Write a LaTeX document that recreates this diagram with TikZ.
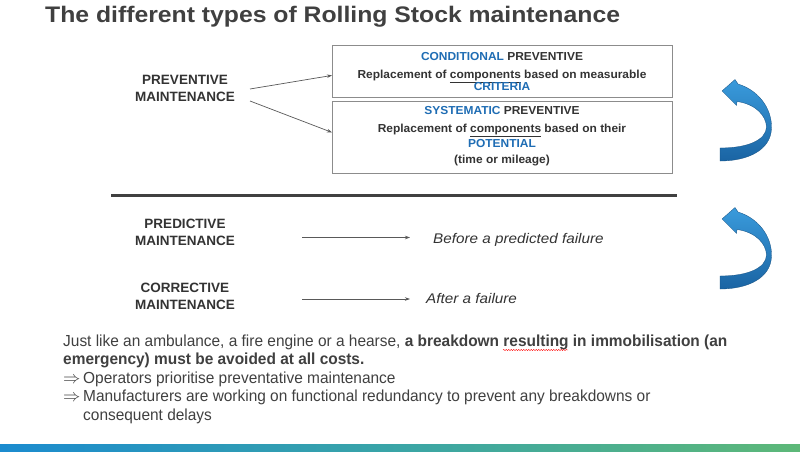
\documentclass[tikz,border=0pt]{standalone}
\usepackage{fontspec}
\setmainfont{Liberation Sans}
\newfontfamily\narrowfont[FakeStretch=0.965]{Liberation Sans}
\newfontfamily\titlefont[FakeStretch=1.10]{Liberation Sans}
\newfontfamily\boxfont[FakeStretch=1.03]{Liberation Sans}
\newfontfamily\itfont[FakeStretch=1.09]{Liberation Sans}
\usetikzlibrary{arrows.meta,decorations.pathmorphing}
\definecolor{txt}{HTML}{333333}
\definecolor{ttl}{HTML}{404040}
\definecolor{bl}{HTML}{1F6DB4}
\definecolor{boxline}{HTML}{8C8C8C}
\definecolor{arrowgray}{HTML}{595959}
\definecolor{rlight}{HTML}{3A9BDC}
\definecolor{rdark}{HTML}{1A64A3}
\definecolor{barblue}{HTML}{1B8BCF}
\definecolor{barteal}{HTML}{3AA5A6}
\definecolor{bargreen}{HTML}{5DB878}
\begin{document}
\begin{tikzpicture}[x=1pt,y=-1pt,
  lab/.style={font=\fontsize{13.5}{17}\selectfont\bfseries, text=txt, align=center, inner sep=0},
  bx/.style={draw=boxline, line width=0.8pt, inner sep=0, anchor=north west},
  btxt/.style={font=\boxfont\fontsize{11.6}{14}\selectfont\bfseries, text=txt, inner sep=0, anchor=base},
  conn/.style={draw=arrowgray, line width=0.7pt, -{Stealth[length=5pt,width=3.5pt]}},
  itx/.style={font=\itfont\fontsize{14}{17}\selectfont\itshape, text=txt, inner sep=0, anchor=base west},
  body/.style={font=\narrowfont\fontsize{16}{19}\selectfont, text=ttl, inner sep=0, anchor=base west},
  ribbon/.style={top color=rlight, bottom color=rdark, draw=rdark!80!black, line width=0.3pt}]
\useasboundingbox (0,0) rectangle (800,451);
\fill[white] (0,0) rectangle (800,451);
% title
\node[font=\titlefont\fontsize{22.5}{26}\selectfont\bfseries, text=ttl, inner sep=0, anchor=base west] (title) at (45,22.7) {The different types of Rolling Stock maintenance};
% preventive
\node[lab] (prev) at (185,88) {PREVENTIVE\\MAINTENANCE};
\node[bx, minimum width=340pt, minimum height=52pt] (box1) at (332,45) {};
\node[bx, minimum width=340pt, minimum height=72pt] (box2) at (332,101) {};
\node[btxt] (c1) at (502,60) {\textcolor{bl}{CONDITIONAL} PREVENTIVE};
\node[btxt] (c2) at (502,78.3) {Replacement of \underline{components} based on measurable};
\node[btxt, text=bl] (c3) at (502,90) {CRITERIA};
\node[btxt] (s1) at (502,114) {\textcolor{bl}{SYSTEMATIC} PREVENTIVE};
\node[btxt] (s2) at (502,132.7) {Replacement of \underline{components} based on their};
\node[btxt, text=bl] (s3) at (502,147.3) {POTENTIAL};
\node[btxt] (s4) at (502,163) {(time or mileage)};
\coordinate (p1) at (250,89);
\coordinate (p2) at (250,101);
\draw[conn] (p1) -- ([yshift=-4pt]box1.west);
\draw[conn] (p2) -- ([yshift=5pt]box2.west);
% separator
\draw[line width=3pt, draw=ttl] (111,195) -- (677,195);
% predictive / corrective
\node[lab] (pred) at (185,232.6) {PREDICTIVE\\MAINTENANCE};
\node[lab] (corr) at (185,296.8) {CORRECTIVE\\MAINTENANCE};
\node[itx] (before) at (433,243.3) {Before a predicted failure};
\node[itx] (after) at (426,303) {After a failure};
\coordinate (q1) at (302,237.5);
\coordinate (q2) at (302,299);
\draw[conn, shorten >=23pt] (q1) -- (q1 -| before.west);
\draw[conn, shorten >=16pt] (q2) -- (q2 -| after.west);
% curved arrows
\foreach \dy in {0,128}{
\begin{scope}[shift={(0,\dy)}]
\shade[ribbon] (720,148) -- (720,161)
  .. controls (748,161) and (771,150) .. (771.5,128)
  .. controls (772,108) and (758,90) .. (738,84)
  -- (735,79.5) -- (722,91) -- (736.5,105.5) -- (737,101.5)
  .. controls (755,104) and (766,115) .. (766.5,127)
  .. controls (766,140) and (748,148) .. (720,148) -- cycle;
\end{scope}}
% body text
\node[body] (l1) at (63,346) {Just like an ambulance, a fire engine or a hearse, \textbf{a breakdown resulting in immobilisation (an}};
\node[body] (l2) at (63,364.5) {\textbf{emergency) must be avoided at all costs.}};
\node[body] (r1) at (63,383) {$\Rightarrow$};
\node[body] (l3) at (83,383) {Operators prioritise preventative maintenance};
\node[body] (r2) at (63,401.5) {$\Rightarrow$};
\node[body] (l4) at (83,401.5) {Manufacturers are working on functional redundancy to prevent any breakdowns or};
\node[body] (l5) at (83,420) {consequent delays};
\draw[red, line width=0.4pt, decorate, decoration={snake, amplitude=0.6pt, segment length=2.5pt}] (503,350) -- (568,350);
% bottom bar
\shade[left color=barblue, right color=bargreen, middle color=barteal] (0,444) rectangle (800,451);
\end{tikzpicture}
\end{document}
